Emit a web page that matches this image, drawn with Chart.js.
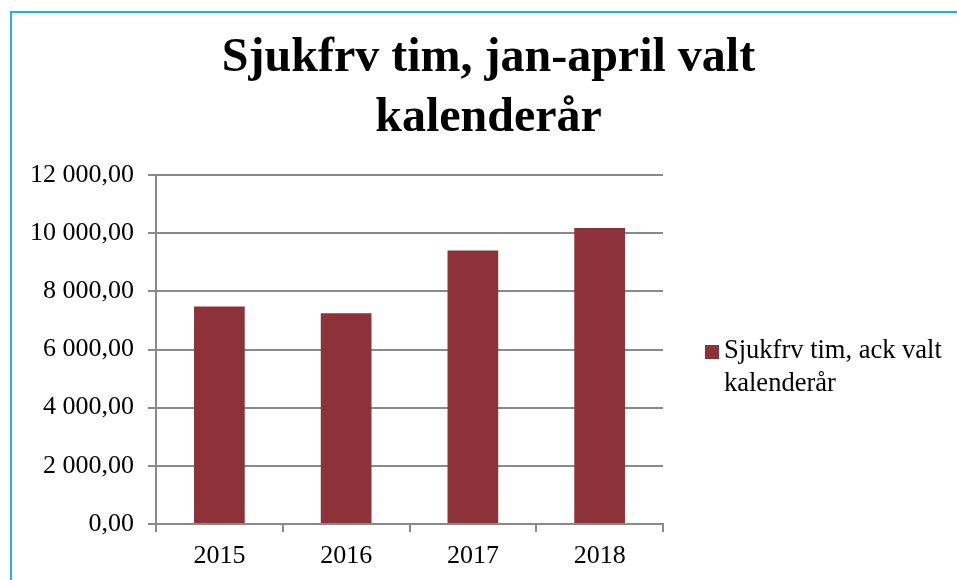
<!DOCTYPE html>
<html>
<head>
<meta charset="utf-8">
<script src="https://cdn.jsdelivr.net/npm/chart.js@4"></script>
<style>
  html, body { margin: 0; padding: 0; background: #fff; }
  #wrap { position: relative; width: 957px; height: 580px; overflow: hidden; }
  #frame { position: absolute; left: 10px; top: 11px; right: -5px; bottom: -5px;
           border-left: 2px solid #1fb3e8; border-top: 2px solid #1fb3e8; }
  canvas { position: absolute; left: 0; top: 0; }
</style>
</head>
<body>
<div id="wrap">
  <div id="frame"></div>
  <canvas id="chart" width="957" height="580"></canvas>
</div>
<script>
// Sick-leave hours, Jan-April, per calendar year
const years = ['2015', '2016', '2017', '2018'];
const hours = [7480, 7250, 9400, 10180];
const seriesLabel = ['Sjukfrv tim, ack valt', 'kalenderår'];
const titleLines = ['Sjukfrv tim, jan-april valt', 'kalenderår'];

const barColor = '#8d3238';
const gridColor = '#8a8a8a';
const serif = '"Liberation Serif", "Times New Roman", serif';

function formatSv(v) {
    const fixed = v.toFixed(2).split('.');
    const intPart = fixed[0].replace(/\B(?=(\d{3})+(?!\d))/g, ' ');
    return intPart + ',' + fixed[1];
}

// Right-hand legend as its own layout box so the title still spans the full width
const sideLegend = {
    id: 'sideLegend',
    beforeInit(chart) {
        const box = {
            position: 'right',
            weight: 0,
            fullSize: false,
            options: {},
            isHorizontal() { return false; },
            update(maxWidth, maxHeight) {
                this.width = 294;
                this.height = maxHeight;
            },
            draw() {
                const ctx = chart.ctx;
                const x = this.left + 42;
                ctx.save();
                ctx.fillStyle = chart.data.datasets[0].backgroundColor;
                ctx.fillRect(x, 345, 14, 14);
                ctx.fillStyle = '#000';
                ctx.font = '26.5px ' + serif;
                ctx.textBaseline = 'alphabetic';
                ctx.textAlign = 'left';
                seriesLabel.forEach((line, i) => ctx.fillText(line, x + 19, 358 + i * 33));
                ctx.restore();
            }
        };
        Chart.layouts.addBox(chart, box);
    }
};

new Chart(document.getElementById('chart'), {
    type: 'bar',
    data: {
        labels: years,
        datasets: [{
            label: seriesLabel.join(' '),
            data: hours,
            backgroundColor: barColor,
            barPercentage: 0.4,
            categoryPercentage: 1.0
        }]
    },
    options: {
        responsive: false,
        animation: false,
        layout: { padding: { left: 20, right: 0, top: 0, bottom: 0 } },
        plugins: {
            legend: { display: false },
            tooltip: { enabled: false },
            title: {
                display: true,
                text: titleLines,
                color: '#000',
                font: { family: serif, size: 48, weight: 'bold', lineHeight: 1.25 },
                padding: { top: 29, bottom: 26 }
            }
        },
        scales: {
            x: {
                offset: true,
                grid: { display: true, drawOnChartArea: false, offset: true, color: gridColor, lineWidth: 2, tickLength: 8 },
                border: { color: gridColor, width: 2 },
                ticks: { color: '#000', font: { family: serif, size: 26 }, padding: 9 },
                afterFit(scale) { scale.height = 56; }
            },
            y: {
                min: 0,
                max: 12000,
                grid: { color: gridColor, lineWidth: 2, tickLength: 8 },
                border: { color: gridColor, width: 2 },
                ticks: {
                    stepSize: 2000,
                    color: '#000',
                    font: { family: serif, size: 26 },
                    padding: 14,
                    callback: v => formatSv(v)
                },
                afterFit(scale) { scale.width = 136; }
            }
        }
    },
    plugins: [sideLegend]
});
</script>
</body>
</html>
